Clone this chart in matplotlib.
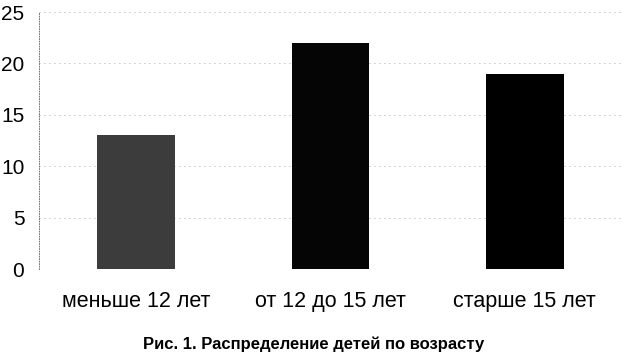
import matplotlib
matplotlib.use("Agg")
import matplotlib.pyplot as plt

plt.rcParams['font.family'] = ['Liberation Sans', 'DejaVu Sans']

categories = ["меньше 12 лет", "от 12 до 15 лет", "старше 15 лет"]
counts = [13, 22, 19]
bar_colors = ['#3c3c3c', '#050505', '#000000']
yticks = [0, 5, 10, 15, 20, 25]

fig = plt.figure(figsize=(6.27, 3.54), dpi=100)
ax = fig.add_axes([0.062, 0.24, 0.93, 0.726])

x = range(len(categories))
ax.bar(x, counts, width=0.4, color=bar_colors, zorder=3)

ax.set_xlim(-0.5, 2.5)
ax.set_ylim(0, 25)
ax.set_yticks(yticks)
ax.set_xticks(list(x))
ax.set_xticklabels(categories, fontsize=15.5)
ax.tick_params(axis='y', length=0, pad=10.5, labelsize=15)
ax.tick_params(axis='x', length=0, pad=16)

# faint dotted grid, as on the scan
ax.yaxis.grid(True, linestyle=(0, (1, 5)), color='#888888', linewidth=0.6)
for s in ['top', 'right', 'bottom']:
    ax.spines[s].set_visible(False)
ax.spines['left'].set_linestyle((0, (1, 2)))
ax.spines['left'].set_linewidth(0.6)
ax.spines['left'].set_color('#555555')

fig.text(0.5, 0.005, "Рис. 1. Распределение детей по возрасту",
         ha='center', va='bottom', fontsize=12, fontweight='bold')

fig.savefig("out.png", dpi=100)
